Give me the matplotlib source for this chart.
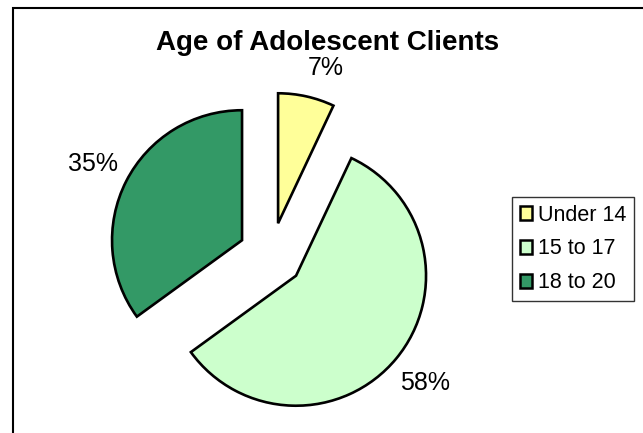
import matplotlib
matplotlib.use("Agg")
import matplotlib.pyplot as plt
from matplotlib.patches import Rectangle

# data
labels = ["Under 14", "15 to 17", "18 to 20"]
values = [7, 58, 35]
colors = ["#FFFF99", "#CCFFCC", "#339966"]

plt.rcParams['font.family'] = ['Liberation Sans', 'DejaVu Sans']

W, H = 643, 433
fig = plt.figure(figsize=(W / 100, H / 100), dpi=100)
ax = fig.add_axes([0, 0, 1, 1])

# pie center / radius in pixels
cx, cy, r = 271, H - 255, 130

wedges, texts, autotexts = ax.pie(
    values, colors=colors, startangle=90, counterclock=False,
    explode=[0.25, 0.25, 0.25], autopct='%1.0f%%', pctdistance=1.29,
    wedgeprops=dict(edgecolor='black', linewidth=1.9),
    textprops=dict(fontsize=18, color='black'))

ax.set_xlim(-cx / r, (W - cx) / r)
ax.set_ylim(-cy / r, (H - cy) / r)
ax.set_aspect('equal')
ax.axis('off')

# nudge the small slice label a bit
autotexts[0].set_position((0.42, 1.44))

fig.text(328 / W, 1 - 43 / H, "Age of Adolescent Clients",
         ha='center', va='center', fontsize=20, fontweight='bold')

leg = fig.legend(wedges, labels, loc='upper left',
                 bbox_to_anchor=(512 / W, 1 - 197 / H), borderaxespad=0,
                 fontsize=15.5, frameon=True, fancybox=False, shadow=False,
                 handlelength=0.6, handleheight=0.6, handletextpad=0.25,
                 labelspacing=0.6, borderpad=0.35)
leg.get_frame().set_edgecolor('black')
leg.get_frame().set_linewidth(1.0)
for h in leg.legend_handles:
    h.set_linewidth(1.8)

# outer border
fig.patches.append(Rectangle((13 / W, -0.1), 1.2, 1.1 - 8 / H, transform=fig.transFigure,
                             fill=False, edgecolor='black', linewidth=1.5))

fig.savefig("out.png", dpi=100)
